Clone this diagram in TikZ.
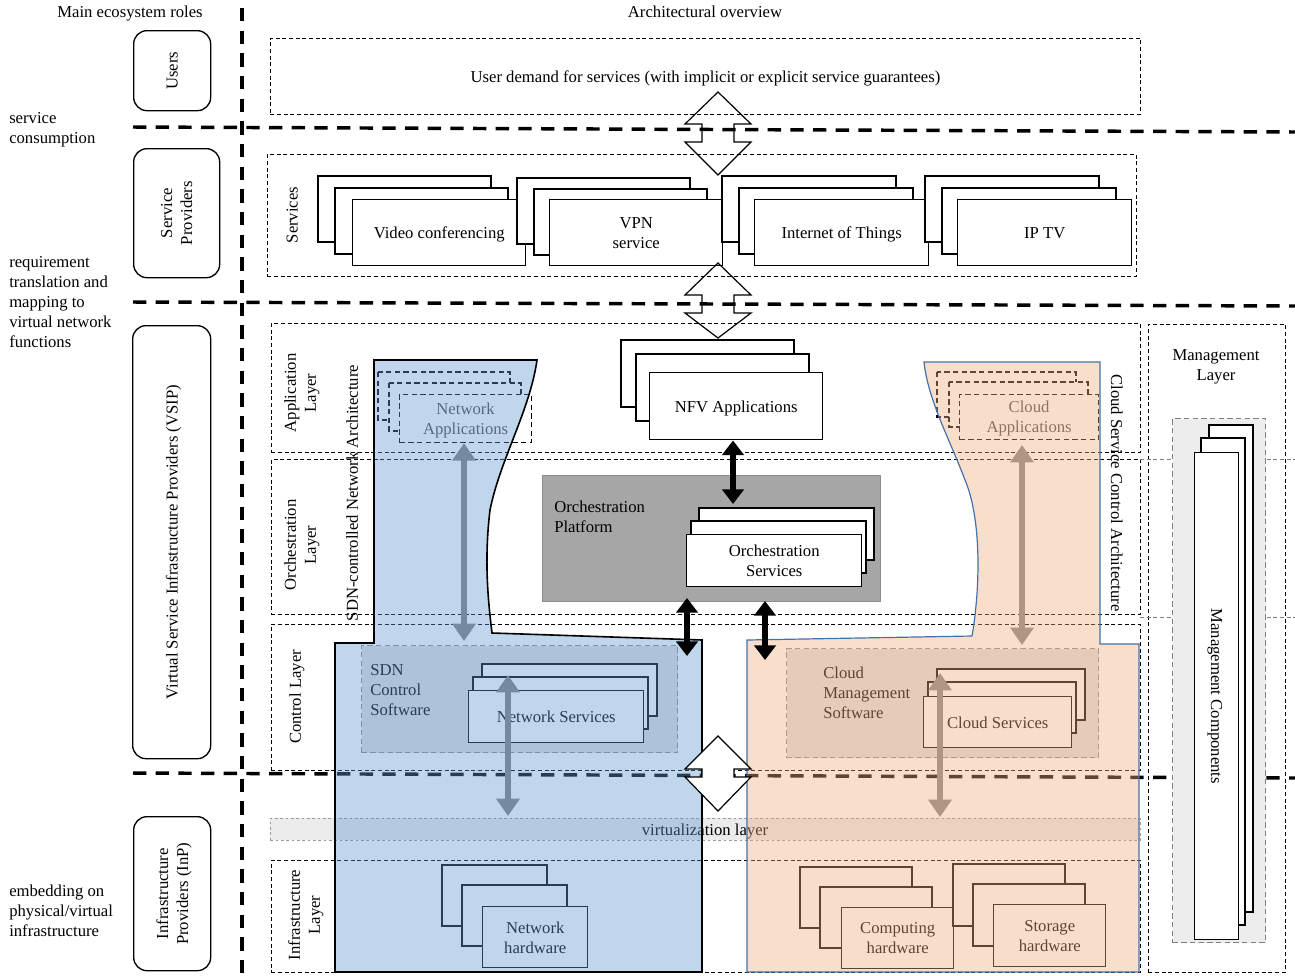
\documentclass[tikz,border=0pt]{standalone}
\usepackage{fontspec}
\setmainfont{Liberation Serif}
\usetikzlibrary{arrows.meta}
\definecolor{bluefill}{RGB}{98,153,208}
\definecolor{orangefill}{RGB}{240,172,127}
\definecolor{regionblue}{RGB}{68,114,170}
\newcommand\mybox[6]{\node[#1,anchor=north west,minimum width={(#5-#3)*0.75pt},minimum height={(#6-#4)*0.75pt},inner sep=0pt] (#2) at (#3,#4) {};}
\newcommand\mystack[8]{%
  \draw[#1] (#3) rectangle ++(#6,#7);
  \draw[#1] (#4) rectangle ++(#6,#7);
  \node[#1,anchor=north west,minimum width={#6*0.75pt},minimum height={#7*0.75pt},inner sep=0pt,align=center] (#2) at (#5) {#8};}
\newcommand\myharrow[6]{\draw[#1] (#2,#3) -- (#2+33,#4) -- (#2+16,#4) -- (#2+16,#5) -- (#2+33,#5) -- (#2,#6) -- (#2-33,#5) -- (#2-16,#5) -- (#2-16,#4) -- (#2-33,#4) -- cycle;}
\begin{document}
\begin{tikzpicture}[x=0.75pt,y=-0.75pt,font=\fontsize{12.5}{15}\selectfont,
  every node/.append style={text depth=0pt},
  thickdash/.style={line width=2.6pt,dash pattern=on 10pt off 7pt},
  layerbox/.style={draw,line width=0.7pt,dash pattern=on 3pt off 2pt},
  rolebox/.style={draw,line width=1pt,rounded corners=10pt},
  sbox/.style={draw,fill=white,line width=1.1pt},
  dsbox/.style={draw,fill=white,line width=0.9pt,dash pattern=on 4pt off 2.5pt},
  ctrlsw/.style={draw=black!45,fill=black!12,line width=0.8pt,dash pattern=on 4pt off 2.5pt},
  virtband/.style={draw=black!40,fill=black!8,line width=0.6pt,dash pattern=on 2pt off 2pt},
  mgmtinner/.style={draw=black!50,fill=black!7,line width=0.8pt,dash pattern=on 4pt off 2.5pt},
  orchplat/.style={draw=black!45,fill=black!35,line width=1pt},
  hollow/.style={draw,line width=0.9pt,line join=miter},
  blkarrow/.style={line width=5pt,{Triangle[width=16pt,length=11pt]}-{Triangle[width=16pt,length=11pt]}},
  grayarrow/.style={line width=5pt,{Triangle[width=17pt,length=13pt]}-{Triangle[width=17pt,length=13pt]}}]
\useasboundingbox (0,0) rectangle (1295,975);

% headers
\node (hroles) at (130,12) {Main ecosystem roles};
\node (harch) at (705,12) {Architectural overview};

% left texts
\node[anchor=west,align=left,inner sep=0pt] (tcons) at (9,128) {service\\consumption};
\node[anchor=west,align=left,inner sep=0pt] (treq) at (9,302) {requirement\\translation and\\mapping to\\virtual network\\functions};
\node[anchor=west,align=left,inner sep=0pt] (temb) at (9,911) {embedding on\\physical/virtual\\infrastructure};

% role boxes
\mybox{rolebox}{users}{133}{30}{210}{110}
\node[rotate=90] (tusers) at (users.center) {Users};
\mybox{rolebox}{sp}{133}{148}{219}{277}
\node[rotate=90,align=center] (tsp) at (sp.center) {Service\\Providers};
\mybox{rolebox}{vsip}{132}{325}{210}{758}
\node[rotate=90] (tvsip) at (vsip.center) {Virtual Service Infrastructure Providers (VSIP)};
\mybox{rolebox}{inp}{133}{816}{210}{970}
\node[rotate=90,align=center] (tinp) at (inp.center) {Infrastructure\\Providers (InP)};

% layer boxes
\mybox{layerbox}{demand}{270}{38}{1140}{114}
\node (tdemand) at (demand.center) {User demand for services (with implicit or explicit service guarantees)};
\mybox{layerbox}{services}{267}{154}{1136}{276}
\node[rotate=90] (tserv) at (292,215) {Services};
\mybox{layerbox}{applayer}{271}{323}{1140}{452}
\node[rotate=90,align=center] (tapp) at (300,393) {Application\\Layer};
\mybox{layerbox}{orchlayer}{271}{459}{1140}{614}
\node[rotate=90,align=center] (torch) at (300,545) {Orchestration\\Layer};
\mybox{layerbox}{ctrllayer}{271}{624}{1140}{770}
\node[rotate=90] (tctrl) at (295,697) {Control Layer};
\mybox{virtband}{virt}{270}{818}{1140}{840}
\node (tvirt) at (705,830) {virtualization layer};
\mybox{layerbox}{infra}{271}{860}{1140}{972}
\node[rotate=90,align=center] (tinfra) at (304,915) {Infrastructure\\Layer};
\mybox{layerbox}{mgmt}{1148}{324}{1285}{972}
\node[align=center] (tmgmt) at (1216,365) {Management\\Layer};
\draw[layerbox,draw=black!50] (1140,459) -- (1295,459);
\draw[layerbox,draw=black!50] (1140,617) -- (1295,617);

% thick separators
\draw[thickdash] (242,8) -- (242,975);
\draw[thickdash] (133,127) -- (1295,132);
\draw[thickdash] (133,302) -- (1295,306);
\draw[thickdash] (133,773) -- (1295,778);

% management components
\mybox{mgmtinner}{mgin}{1172}{418}{1265}{942}
\mystack{sbox}{mgc}{1209,425}{1201,438}{1194,452}{44}{487}{}
\node[rotate=-90] (tmgc) at (mgc.center) {Management Components};

% services
\mystack{sbox}{vc}{318,176}{335,188}{352,199}{173}{66}{Video conferencing}
\mystack{sbox}{vpn}{517,178}{534,189}{549,199}{173}{66}{VPN\\service}
\mystack{sbox}{iot}{722,176}{739,188}{754,199}{174}{66}{Internet of Things}
\mystack{sbox}{iptv}{925,176}{942,188}{957,199}{174}{66}{IP TV}

% NFV applications
\mystack{sbox}{nfv}{621,340}{636,354}{649,372}{173}{67}{NFV Applications}

% orchestration platform
\mybox{orchplat}{op}{542}{475}{880}{601}
\node[anchor=north west,align=left,inner sep=0pt] (top) at (554,501) {Orchestration\\Platform};
\mystack{sbox}{os}{699,508}{691,521}{686,534}{175}{52}{Orchestration\\Services}

% SDN side contents
\mystack{dsbox,text=black!70}{na}{378,372}{389,383}{399,394}{132}{48}{Network\\Applications}
\mybox{ctrlsw}{sdnc}{361}{645}{677}{752}
\node[anchor=north west,align=left,inner sep=0pt] (tsdnc) at (370,664) {SDN\\Control\\Software};
\mystack{sbox}{ns}{482,664}{473,677}{468,690}{175}{52}{Network Services}
\mystack{sbox}{nh}{442,865}{462,885}{482,906}{105}{61}{Network\\hardware}

% Cloud side contents
\mystack{dsbox,text=black!70}{ca}{937,372}{949,382}{959,394}{139}{45}{Cloud\\Applications}
\mybox{ctrlsw}{cms}{786}{648}{1098}{757}
\node[anchor=north west,align=left,inner sep=0pt] (tcms) at (823,667) {Cloud\\Management\\Software};
\mystack{sbox}{cs}{937,669}{928,682}{923,696}{148}{51}{Cloud Services}
\mystack{sbox}{ch}{800,867}{820,887}{841,907}{112}{61}{Computing\\hardware}
\mystack{sbox}{sh}{953,864}{973,884}{993,904}{112}{62}{Storage\\hardware}

% gray arrows
\coordinate (ga1b) at (464,641);
\coordinate (ga2t) at (508,675);
\coordinate (ga2b) at (508,816);
\coordinate (go1t) at (1022,445);
\coordinate (go1b) at (1022,645);
\coordinate (go2t) at (940,673);
\coordinate (go2b) at (940,817);
\draw[grayarrow,draw=black!50,fill=black!50] (na.south -| ga1b) -- (ga1b);
\draw[grayarrow,draw=black!50,fill=black!50] (ga2t) -- (ga2b);
\draw[grayarrow,draw=black!47,fill=black!47] (go1t) -- (go1b);
\draw[grayarrow,draw=black!47,fill=black!47] (go2t) -- (go2b);

% overlays
\draw[line width=1.2pt,fill=bluefill,fill opacity=0.4] (374,360) -- (537,360)
  .. controls (530,410) and (500,460) .. (490,510)
  .. controls (484,560) and (488,600) .. (492,633)
  -- (702,640) -- (702,972) -- (335,972) -- (335,643) -- (374,643) -- cycle;
\draw[draw=regionblue,line width=0.9pt,fill=orangefill,fill opacity=0.4] (924,362) -- (1100,362) -- (1100,644) -- (1139,644) -- (1139,972) -- (747,972) -- (747,640) -- (972,636)
  .. controls (980,590) and (982,520) .. (965,480)
  .. controls (950,440) and (928,400) .. (924,362) -- cycle;

% black arrows
\coordinate (ba1) at (733,504);
\coordinate (ba2t) at (687,598);
\coordinate (ba2b) at (687,656);
\coordinate (ba3t) at (765,601);
\coordinate (ba3b) at (765,660);
\draw[blkarrow] (nfv.south -| ba1) -- (ba1);
\draw[blkarrow] (ba2t) -- (ba2b);
\draw[blkarrow] (ba3t) -- (ba3b);

% hollow double arrows
\myharrow{hollow}{718}{92}{124}{142}{175}
\myharrow{hollow}{718}{263}{295}{313}{338}
\myharrow{hollow,fill=white}{718}{736}{769}{777}{811}

% architecture labels
\node[rotate=90] (tsdn) at (352,493) {SDN-controlled Network Architecture};
\node[rotate=-90] (tcloud) at (1117,493) {Cloud Service Control Architecture};
\end{tikzpicture}
\end{document}
